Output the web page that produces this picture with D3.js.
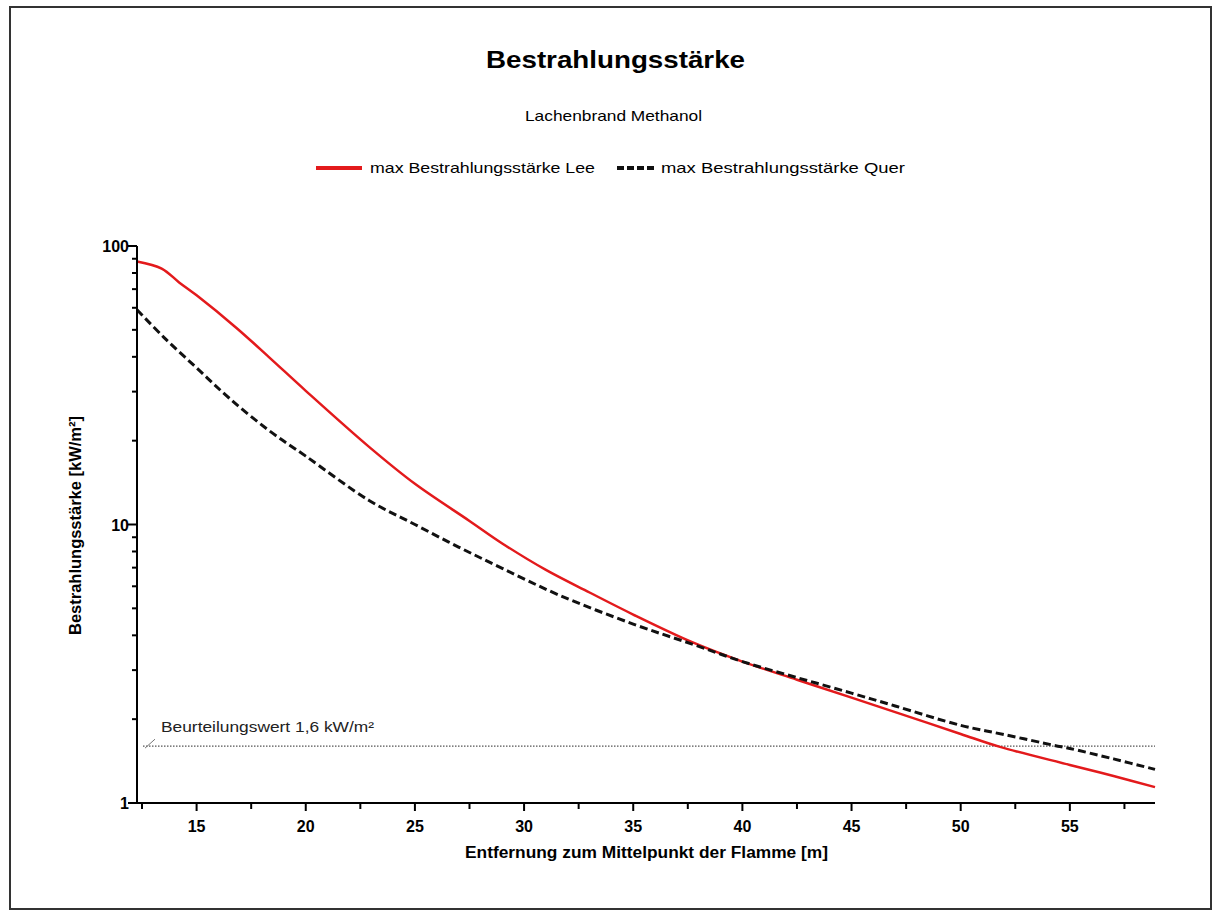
<!DOCTYPE html>
<html><head><meta charset="utf-8">
<script src="https://cdn.jsdelivr.net/npm/d3@7"></script>
<style>body{margin:0;background:#fff}svg{display:block}text{font-family:"Liberation Sans",Arial,sans-serif}</style>
</head><body><svg id="c" width="1213" height="912"></svg>
<script>
const titleText = "Bestrahlungsstärke";
const subtitleText = "Lachenbrand Methanol";
const seriesNames = ["max  Bestrahlungsstärke Lee", "max  Bestrahlungsstärke Quer"];
const xLabel = "Entfernung zum Mittelpunkt der Flamme [m]";
const yLabel = "Bestrahlungsstärke [kW/m²]";
const refValue = 1.6;
const refLabel = "Beurteilungswert 1,6 kW/m²";
const xTicks = [15, 20, 25, 30, 35, 40, 45, 50, 55];
const xMinorTicks = [12.5, 17.5, 22.5, 27.5, 32.5, 37.5, 42.5, 47.5, 52.5, 57.5];
const yTickLabels = [1, 10, 100];
const yMinorTicks = [2,3,4,5,6,7,8,9,20,30,40,50,60,70,80,90];

const leeX = [12.27, 13.4, 14.2, 15, 16.8, 18.3, 20, 22.9, 25, 27.5, 29, 31, 33, 35, 37.7, 40, 42.5, 45, 47, 50, 51.8, 55, 57, 58.9];
const leeY = [88, 83, 74, 66.5, 51, 40, 30.2, 19.0, 14.0, 10.3, 8.55, 6.87, 5.7, 4.75, 3.78, 3.22, 2.77, 2.39, 2.12, 1.77, 1.59, 1.37, 1.25, 1.14];
const querX = [12.27, 13.5, 15, 16.5, 18.3, 20, 22.9, 25, 27, 29, 31.6, 35, 37.7, 40, 42.5, 45, 47, 50, 52, 54.3, 55, 57, 58.9];
const querY = [59, 47, 36.5, 28.4, 21.8, 17.6, 12.2, 10.0, 8.3, 6.96, 5.58, 4.39, 3.72, 3.22, 2.82, 2.48, 2.23, 1.9, 1.76, 1.61, 1.57, 1.44, 1.32];

const svg = d3.select("#c");
svg.append("rect").attr("x",10).attr("y",7).attr("width",1201).attr("height",902)
  .attr("fill","#fff").attr("stroke","#333").attr("stroke-width",2);

const x = d3.scaleLinear().domain([12.27, 58.9]).range([137, 1155]);
const y = d3.scaleLog().domain([1, 100]).range([803, 246]);

function txt(sel, s, len) {
  return sel.text(s).attr("textLength", len).attr("lengthAdjust", "spacingAndGlyphs");
}

// title
txt(svg.append("text").attr("x",486).attr("y",68)
  .attr("font-size",24).attr("font-weight","bold"), titleText, 259);
txt(svg.append("text").attr("x",525).attr("y",121)
  .attr("font-size",15), subtitleText, 177);

// legend
svg.append("line").attr("x1",316).attr("x2",362).attr("y1",168).attr("y2",168)
  .attr("stroke","#e31a1c").attr("stroke-width",4);
txt(svg.append("text").attr("x",370).attr("y",173).attr("font-size",15), seriesNames[0], 225);
svg.append("line").attr("x1",617).attr("x2",656).attr("y1",168).attr("y2",168)
  .attr("stroke","#111").attr("stroke-width",4).attr("stroke-dasharray","7,3");
txt(svg.append("text").attr("x",661).attr("y",173).attr("font-size",15), seriesNames[1], 244);

// reference line
svg.append("line").attr("x1",143).attr("x2",x(58.9)).attr("y1",y(refValue)).attr("y2",y(refValue))
  .attr("stroke","#555").attr("stroke-width",1.3).attr("stroke-dasharray","1.5,1.5");
svg.append("line").attr("x1",145).attr("x2",155).attr("y1",y(refValue)+2).attr("y2",y(refValue)-7)
  .attr("stroke","#777").attr("stroke-width",1);
txt(svg.append("text").attr("x",161).attr("y",y(refValue)-14).attr("font-size",14.5).attr("fill","#222"), refLabel, 213);

// lines
const line = d3.line().x(d=>x(d[0])).y(d=>y(d[1])).curve(d3.curveCatmullRom.alpha(0.5));
svg.append("path").datum(leeX.map((v,i)=>[v,leeY[i]])).attr("d",line)
  .attr("fill","none").attr("stroke","#e31a1c").attr("stroke-width",2.5);
svg.append("path").datum(querX.map((v,i)=>[v,querY[i]])).attr("d",line)
  .attr("fill","none").attr("stroke","#111").attr("stroke-width",3).attr("stroke-dasharray","8,4");

// x axis
const xa = svg.append("g").attr("transform","translate(0,803)");
xa.append("line").attr("x1",x.range()[0]-9).attr("x2",x.range()[1]).attr("stroke","#000").attr("stroke-width",2);
xa.selectAll(".mj").data(xTicks).join("line").attr("x1",d=>x(d)).attr("x2",d=>x(d)).attr("y1",0).attr("y2",8)
  .attr("stroke","#000").attr("stroke-width",2);
xa.selectAll(".mn").data(xMinorTicks.filter(d=>d<=58.9)).join("line").attr("x1",d=>x(d)).attr("x2",d=>x(d)).attr("y1",0).attr("y2",6)
  .attr("stroke","#000").attr("stroke-width",2);
xa.selectAll("text").data(xTicks).join("text").attr("x",d=>x(d)).attr("y",29).attr("text-anchor","middle")
  .attr("font-size",16).attr("font-weight","bold").text(d=>d);
txt(svg.append("text").attr("x",465).attr("y",858).attr("font-size",16)
  .attr("font-weight","bold"), xLabel, 363);

// y axis
const ya = svg.append("g").attr("transform","translate(137,0)");
ya.append("line").attr("y1",y(100)).attr("y2",y(1)).attr("stroke","#000").attr("stroke-width",2);
ya.selectAll(".mj").data(yTickLabels).join("line").attr("x1",-9).attr("x2",0).attr("y1",d=>y(d)).attr("y2",d=>y(d))
  .attr("stroke","#000").attr("stroke-width",2);
ya.selectAll(".mn").data(yMinorTicks).join("line").attr("x1",-5).attr("x2",0).attr("y1",d=>y(d)).attr("y2",d=>y(d))
  .attr("stroke","#000").attr("stroke-width",2);
ya.selectAll("text").data(yTickLabels).join("text").attr("x",-8).attr("y",d=>y(d)+6).attr("text-anchor","end")
  .attr("font-size",16).attr("font-weight","bold").text(d=>d);
txt(svg.append("text").attr("transform","translate(81,635) rotate(-90)")
  .attr("font-size",16).attr("font-weight","bold"), yLabel, 219);
</script></body></html>
